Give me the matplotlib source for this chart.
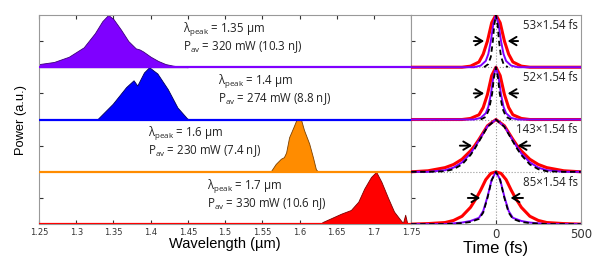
import numpy as np
import matplotlib.pyplot as plt

plt.rcParams['mathtext.fontset'] = 'custom'
plt.rcParams['mathtext.rm'] = 'Open Sans'

# spectra (wavelength in um, normalised power), top band first
lam1 = [1.25, 1.27, 1.29, 1.31, 1.325, 1.335, 1.343, 1.35, 1.36, 1.37, 1.38, 1.385, 1.39, 1.40, 1.41, 1.42, 1.43, 1.44, 1.45]
pow1 = [0.06, 0.10, 0.20, 0.38, 0.65, 0.88, 1.00, 0.92, 0.72, 0.50, 0.36, 0.34, 0.30, 0.20, 0.12, 0.06, 0.03, 0.01, 0.0]
lam2 = [1.328, 1.349, 1.367, 1.377, 1.382, 1.391, 1.398, 1.409, 1.423, 1.436, 1.449, 1.452]
pow2 = [0.0, 0.30, 0.62, 0.75, 0.65, 0.90, 1.00, 0.88, 0.58, 0.23, 0.02, 0.0]
lam3 = [1.561, 1.568, 1.575, 1.579, 1.582, 1.586, 1.592, 1.596, 1.602, 1.606, 1.613, 1.618, 1.622, 1.625]
pow3 = [0.0, 0.15, 0.25, 0.28, 0.37, 0.66, 0.86, 1.00, 1.00, 0.80, 0.54, 0.28, 0.05, 0.0]
lam4 = [1.628, 1.631, 1.642, 1.656, 1.669, 1.679, 1.687, 1.696, 1.703, 1.710, 1.719, 1.727, 1.734, 1.739, 1.742, 1.745]
pow4 = [0.0, 0.04, 0.11, 0.20, 0.27, 0.43, 0.68, 0.90, 1.00, 0.81, 0.50, 0.24, 0.11, 0.02, 0.18, 0.0]

spec_colors = ['#7f00ff', '#0000ff', '#ff8c00', '#ff0000']
spec_edges = ['#3c0078', '#00005a', '#7a4000', '#7a0000']
peaks = ['1.35', '1.4', '1.6', '1.7']
powers = ['320 mW (10.3 nJ)', '274 mW (8.8 nJ)', '230 mW (7.4 nJ)', '330 mW (10.6 nJ)']
label_x = [1.444, 1.490, 1.397, 1.476]

# autocorrelation traces (time in fs, normalised)
t1 = [-500, -200, -150, -100, -75, -50, -25, 0, 25, 50, 75, 100, 150, 200, 500]
red1 = [0.0, 0.0, 0.02, 0.10, 0.25, 0.50, 0.85, 1.0, 0.85, 0.50, 0.25, 0.10, 0.02, 0.0, 0.0]
tp1 = [-500, -130, -90, -60, -45, -30, -15, 0, 15, 30, 45, 60, 90, 130, 500]
pur1 = [0.0, 0.0, 0.03, 0.12, 0.25, 0.50, 0.83, 1.0, 0.83, 0.50, 0.25, 0.12, 0.03, 0.0, 0.0]
tb1 = [-70, -45, -30, -18, -10, 0, 10, 18, 30, 45, 70]
blk1 = [0.0, 0.06, 0.20, 0.50, 0.80, 1.0, 0.80, 0.50, 0.20, 0.06, 0.0]

red2 = [0.0, 0.0, 0.02, 0.09, 0.23, 0.48, 0.84, 1.0, 0.84, 0.48, 0.23, 0.09, 0.02, 0.0, 0.0]
pur2 = [0.0, 0.0, 0.03, 0.12, 0.24, 0.48, 0.82, 1.0, 0.82, 0.48, 0.24, 0.12, 0.03, 0.0, 0.0]
tb2 = [-90, -60, -40, -22, -12, 0, 12, 22, 40, 60, 90]
blk2 = [0.0, 0.05, 0.20, 0.50, 0.80, 1.0, 0.80, 0.50, 0.20, 0.05, 0.0]

t3 = [-500, -400, -300, -250, -200, -150, -125, -100, -50, 0, 50, 100, 125, 150, 200, 250, 300, 400, 500]
red3 = [0.0, 0.02, 0.08, 0.14, 0.24, 0.40, 0.50, 0.62, 0.88, 1.0, 0.88, 0.62, 0.50, 0.40, 0.24, 0.14, 0.08, 0.02, 0.0]
pur3 = [0.0, 0.0, 0.03, 0.08, 0.18, 0.35, 0.47, 0.60, 0.87, 1.0, 0.87, 0.60, 0.47, 0.35, 0.18, 0.08, 0.03, 0.0, 0.0]
blk3 = [0.0, 0.0, 0.01, 0.05, 0.14, 0.32, 0.44, 0.58, 0.86, 1.0, 0.86, 0.58, 0.44, 0.32, 0.14, 0.05, 0.01, 0.0, 0.0]

t4 = [-500, -400, -300, -250, -200, -150, -115, -90, -60, -30, 0, 30, 60, 90, 115, 150, 200, 250, 300, 400, 500]
red4 = [0.0, 0.01, 0.03, 0.07, 0.15, 0.32, 0.50, 0.65, 0.85, 0.97, 1.0, 0.97, 0.85, 0.65, 0.50, 0.32, 0.15, 0.07, 0.03, 0.01, 0.0]
tp4 = [-500, -300, -200, -150, -100, -75, -50, -25, 0, 25, 50, 75, 100, 150, 200, 300, 500]
pur4 = [0.0, 0.0, 0.03, 0.06, 0.12, 0.25, 0.52, 0.85, 1.0, 0.85, 0.52, 0.25, 0.12, 0.06, 0.03, 0.0, 0.0]
blk4 = [0.0, 0.0, 0.02, 0.04, 0.10, 0.22, 0.50, 0.84, 1.0, 0.84, 0.50, 0.22, 0.10, 0.04, 0.02, 0.0, 0.0]

ac_labels = ['53×1.54 fs', '52×1.54 fs', '143×1.54 fs', '85×1.54 fs']
arrows = [(-147, -53, 147, 53), (-147, -53, 147, 53), (-229, -124, 218, 112), (-182, -76, 176, 70)]

spectra = [(lam1, pow1), (lam2, pow2), (lam3, pow3), (lam4, pow4)]
traces = [(t1, red1, tp1, pur1, tb1, blk1), (t1, red2, tp1, pur2, tb2, blk2),
          (t3, red3, t3, pur3, t3, blk3), (t4, red4, tp4, pur4, tp4, blk4)]

fig = plt.figure(figsize=(6.1, 2.71), dpi=100)
ax = fig.add_axes([0.064, 0.173, 0.61, 0.772])
ax2 = fig.add_axes([0.674, 0.173, 0.278, 0.772])

txt = dict(family=['Open Sans', 'DejaVu Sans'], fontsize=8.3, color='#222222')
arrow_props = dict(arrowstyle='->, head_length=0.5, head_width=0.3', color='black', lw=1.4)
for i in range(4):
    off = 3 - i
    lam, pw = spectra[i]
    ax.fill_between(lam, off, np.array(pw) + off, color=spec_colors[i], lw=0.6,
                    edgecolor=spec_edges[i], zorder=2)
    ax.axhline(off, color=spec_colors[i], lw=1.6, zorder=3)
    ax.text(label_x[i], off + 0.66, 'λ$_{\\rm peak}$ = ' + peaks[i] + ' µm', **txt)
    ax.text(label_x[i], off + 0.33, 'P$_{\\rm av}$ = ' + powers[i], **txt)

    tr, r, tp, p, tb, b = traces[i]
    ax2.plot(tr, np.array(r) + off, color='#ff0000', lw=2.2, zorder=3)
    ax2.plot(tp, np.array(p) + off, color='#7f00ff', lw=1.4, zorder=4)
    ax2.plot(tb, np.array(b) + off, color='black', lw=1.3, ls=(0, (3, 2)), zorder=5)
    a = arrows[i]
    ax2.annotate('', xy=(a[1], off + 0.5), xytext=(a[0], off + 0.5),
                 arrowprops=arrow_props, zorder=6)
    ax2.annotate('', xy=(a[3], off + 0.5), xytext=(a[2], off + 0.5),
                 arrowprops=arrow_props, zorder=6)
    ax2.text(482, off + 0.8, ac_labels[i], ha='right', va='center', **txt)
    if off > 0:
        ax2.axhline(off, color='#999999', lw=0.8, ls=':', zorder=1)

ax2.axvline(0, color='#999999', lw=0.8, ls=':', zorder=1)

ax.set_xlim(1.25, 1.75)
ax.set_ylim(0, 4)
ax.set_xticks(np.arange(1.25, 1.751, 0.05))
ax.set_xticklabels(['{:g}'.format(round(v, 2)) for v in np.arange(1.25, 1.751, 0.05)])
ax.set_yticks([0.5, 1.5, 2.5, 3.5])
ax.set_yticklabels([])
ax.tick_params(direction='in', length=3, labelsize=6, colors='#333333', top=True, pad=3)
ax.set_xlabel('Wavelength (µm)', fontsize=10.5, family='Liberation Sans', labelpad=0)
ax.set_ylabel('Power (a.u.)', fontsize=9.3, family='Liberation Sans', labelpad=6)

ax2.set_xlim(-500, 500)
ax2.set_ylim(0, 4)
ax2.set_xticks([0, 500])
ax2.set_yticks([0.5, 1.5, 2.5, 3.5])
ax2.set_yticklabels([])
ax2.tick_params(direction='in', length=3, labelsize=8.5, colors='#333333', pad=3)
ax2.set_xlabel('Time (fs)', fontsize=12, family='Liberation Sans', labelpad=0)

for a_ in (ax, ax2):
    for s in a_.spines.values():
        s.set_color('#999999')
        s.set_linewidth(0.8)

fig.savefig('out.png', dpi=100)
